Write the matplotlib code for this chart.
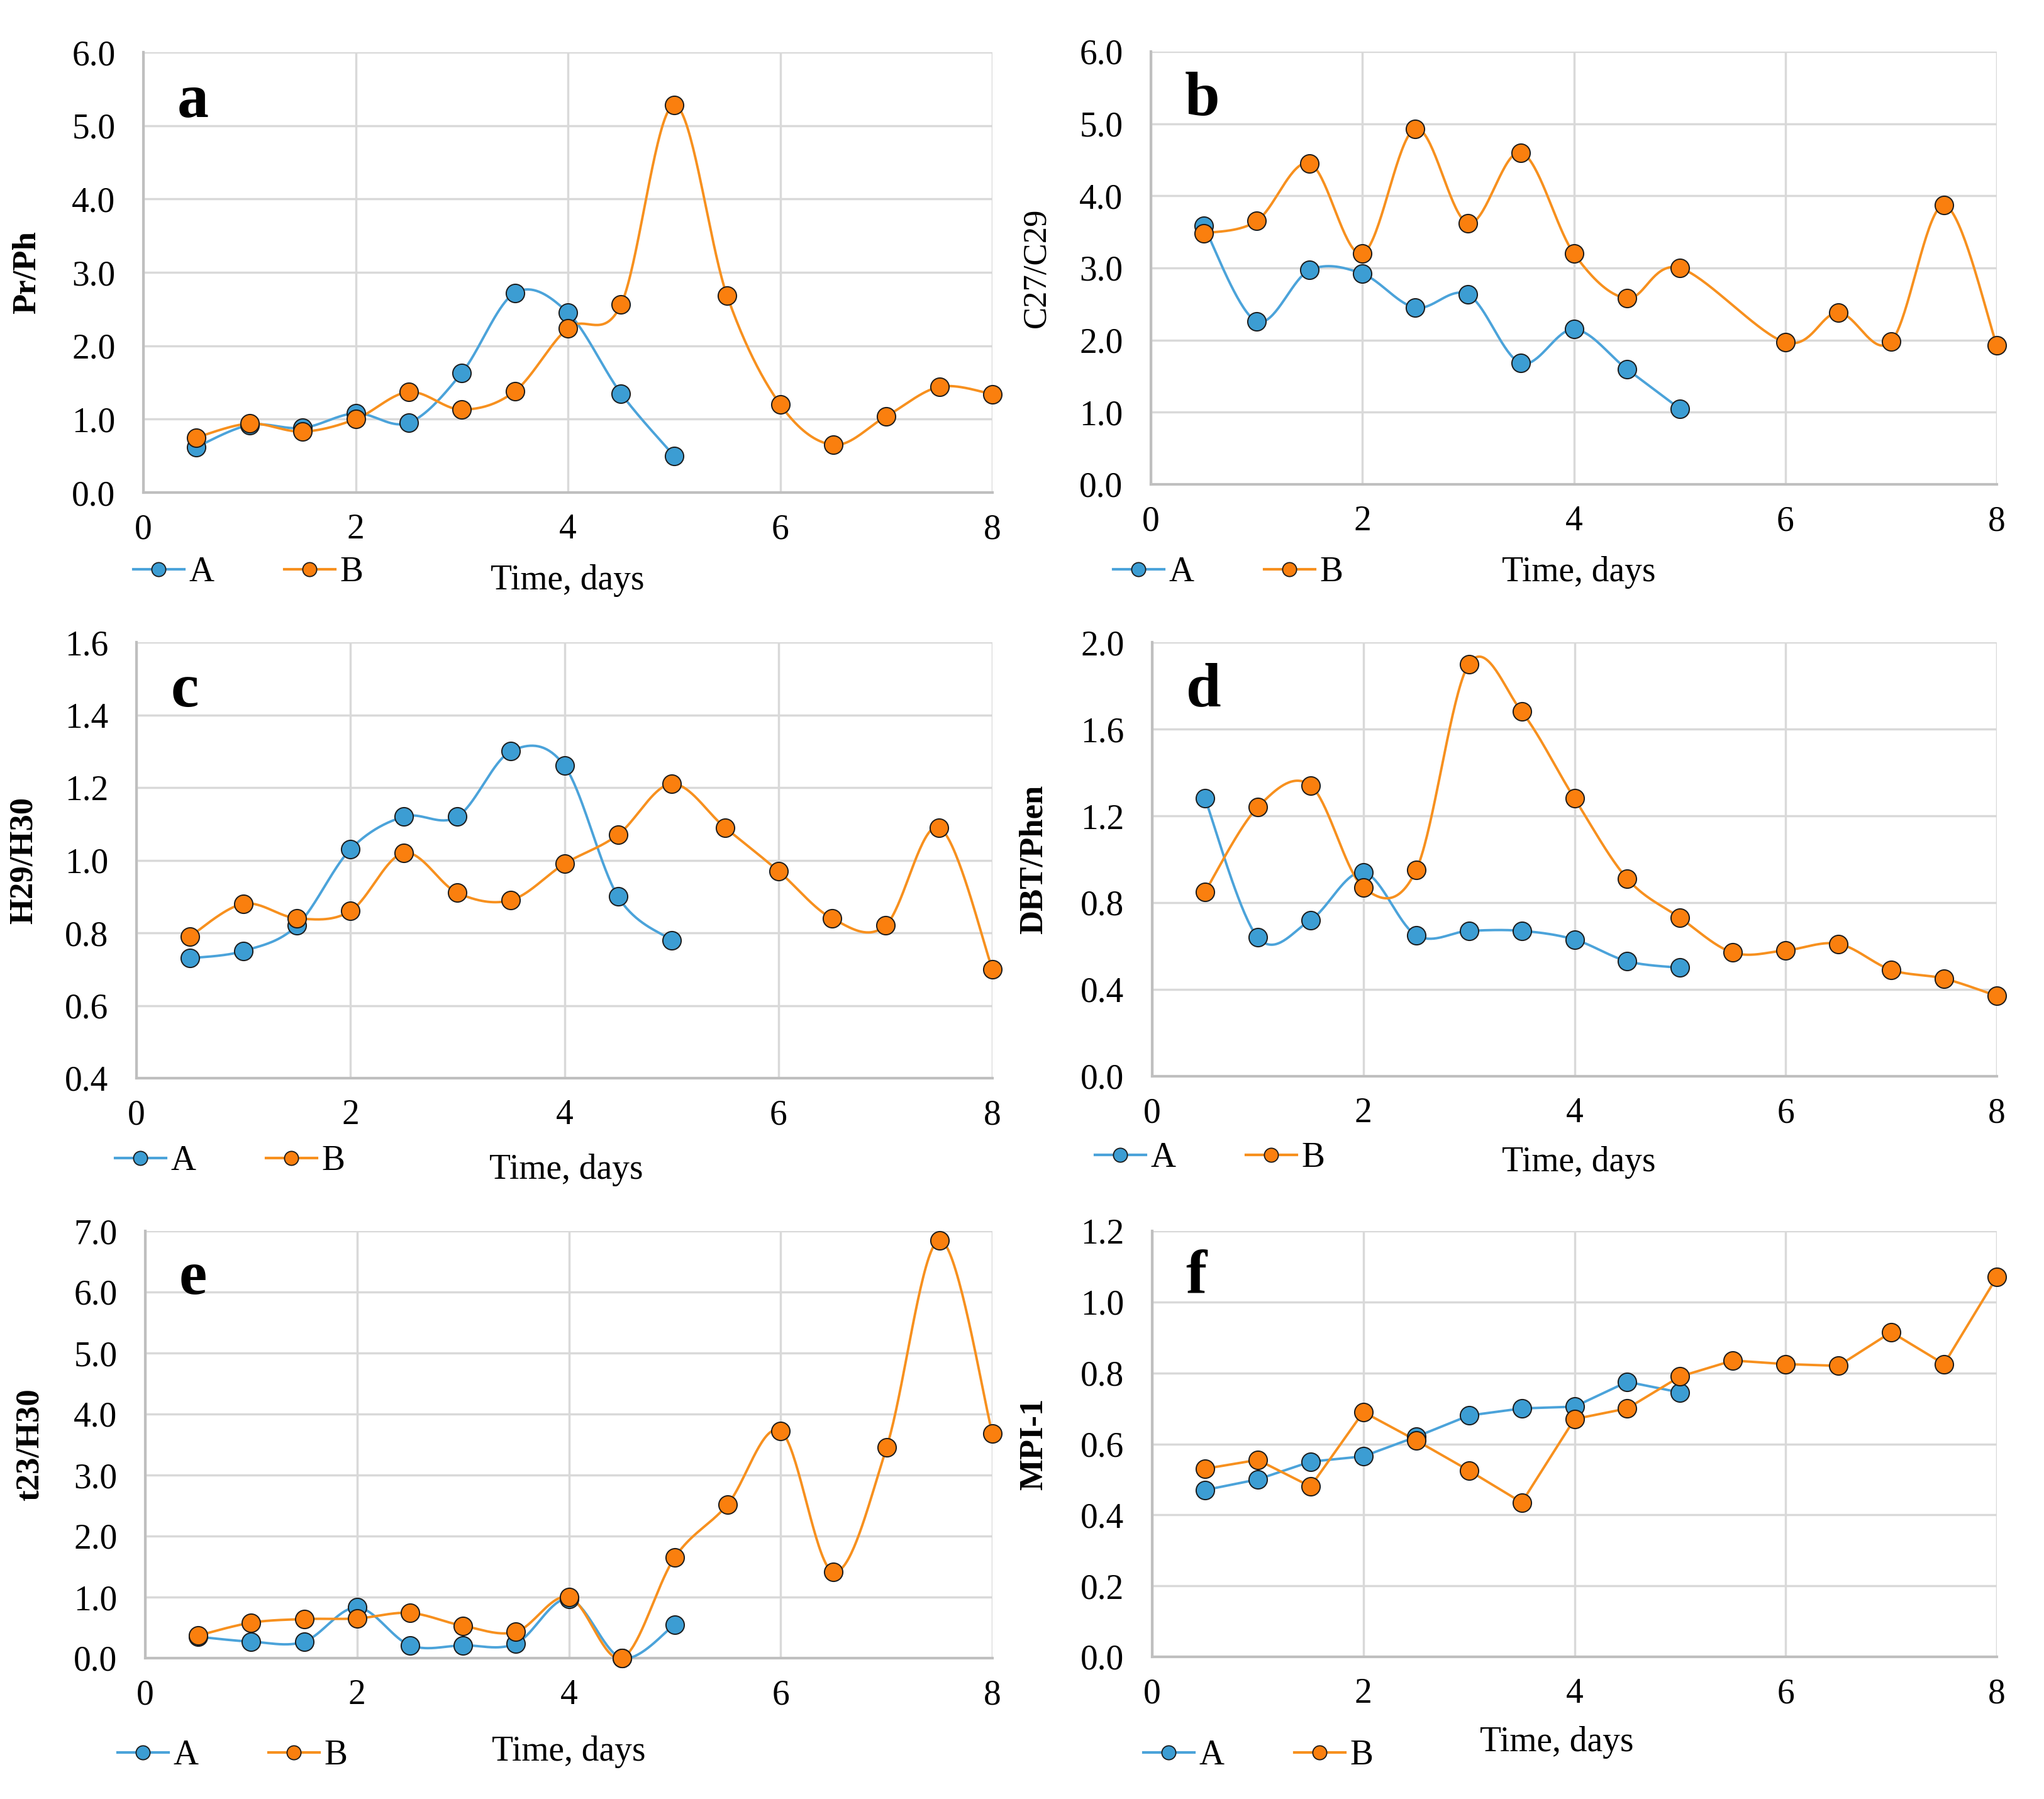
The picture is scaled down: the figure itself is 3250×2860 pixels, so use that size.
import numpy as np
import matplotlib
matplotlib.use("Agg")
import matplotlib.pyplot as plt
from matplotlib.lines import Line2D

plt.rcParams['font.family'] = ['Liberation Serif', 'DejaVu Serif']

# ---------------- data ----------------
time_A = [0.5, 1.0, 1.5, 2.0, 2.5, 3.0, 3.5, 4.0, 4.5, 5.0]
time_B = [0.5, 1.0, 1.5, 2.0, 2.5, 3.0, 3.5, 4.0, 4.5, 5.0, 5.5, 6.0, 6.5, 7.0, 7.5, 8.0]
time_B_b = [0.5, 1.0, 1.5, 2.0, 2.5, 3.0, 3.5, 4.0, 4.5, 5.0, 6.0, 6.5, 7.0, 7.5, 8.0]

prph_A = [0.62, 0.92, 0.88, 1.08, 0.95, 1.63, 2.72, 2.45, 1.35, 0.50]
prph_B = [0.75, 0.94, 0.83, 1.00, 1.37, 1.13, 1.38, 2.24, 2.56, 5.28, 2.68, 1.20, 0.65, 1.04, 1.44, 1.34]

c27_A = [3.58, 2.26, 2.97, 2.92, 2.45, 2.63, 1.68, 2.15, 1.60, 1.05]
c27_B = [3.48, 3.65, 4.45, 3.20, 4.93, 3.62, 4.60, 3.20, 2.58, 3.00, 1.97, 2.38, 1.98, 3.87, 1.93]

h29_A = [0.73, 0.75, 0.82, 1.03, 1.12, 1.12, 1.30, 1.26, 0.90, 0.78]
h29_B = [0.79, 0.88, 0.84, 0.86, 1.02, 0.91, 0.89, 0.99, 1.07, 1.21, 1.09, 0.97, 0.84, 0.82, 1.09, 0.70]

dbt_A = [1.28, 0.64, 0.72, 0.94, 0.65, 0.67, 0.67, 0.63, 0.53, 0.50]
dbt_B = [0.85, 1.24, 1.34, 0.87, 0.95, 1.90, 1.68, 1.28, 0.91, 0.73, 0.57, 0.58, 0.61, 0.49, 0.45, 0.37]

t23_A = [0.35, 0.27, 0.27, 0.83, 0.21, 0.21, 0.24, 0.97, 0.00, 0.55]
t23_B = [0.37, 0.58, 0.64, 0.65, 0.74, 0.53, 0.43, 1.00, 0.00, 1.65, 2.52, 3.72, 1.41, 3.45, 6.85, 3.68]

mpi_A = [0.47, 0.50, 0.55, 0.565, 0.62, 0.68, 0.70, 0.705, 0.775, 0.745]
mpi_B = [0.53, 0.555, 0.48, 0.69, 0.61, 0.525, 0.435, 0.67, 0.70, 0.79, 0.835, 0.825, 0.82, 0.915, 0.825, 1.07]

panel_letters = ['a', 'b', 'c', 'd', 'e', 'f']
y_labels = ['Pr/Ph', 'C27/C29', 'H29/H30', 'DBT/Phen', 't23/H30', 'MPI-1']
x_label = 'Time, days'
x_ticks = [0, 2, 4, 6, 8]
y_ticks = [
    [0.0, 1.0, 2.0, 3.0, 4.0, 5.0, 6.0],
    [0.0, 1.0, 2.0, 3.0, 4.0, 5.0, 6.0],
    [0.4, 0.6, 0.8, 1.0, 1.2, 1.4, 1.6],
    [0.0, 0.4, 0.8, 1.2, 1.6, 2.0],
    [0.0, 1.0, 2.0, 3.0, 4.0, 5.0, 6.0, 7.0],
    [0.0, 0.2, 0.4, 0.6, 0.8, 1.0, 1.2],
]
series = [
    (time_A, prph_A, time_B, prph_B),
    (time_A, c27_A, time_B_b, c27_B),
    (time_A, h29_A, time_B, h29_B),
    (time_A, dbt_A, time_B, dbt_B),
    (time_A, t23_A, time_B, t23_B),
    (time_A, mpi_A, time_B, mpi_B),
]
smooth = [True, True, True, True, True, False]

# ---------------- layout / style ----------------
W, H = 3250, 2860
boxes = [  # left, right, top, bottom in pixels
    (228, 1578, 83, 783),
    (1830, 3175, 82, 770),
    (217, 1578, 1021, 1714),
    (1832, 3175, 1021, 1711),
    (231, 1578, 1957, 2636),
    (1832, 3175, 1957, 2634),
]
legend_pos = [  # handle start x px, center y px
    (212, 910), (1770, 910), (183, 1846), (1741, 1841), (187, 2791), (1818, 2791)
]
xlabel_pos = [(902, 923), (2510, 910), (900, 1860), (2510, 1848), (904, 2785), (2475, 2770)]
ylabel_x = [67, 1672, 62, 1668, 72, 1668]
ylabel_bold = [True, False, True, True, True, True]

col_A_line = '#4BA3DA'
col_A_fill = '#3C9DD3'
col_B_line = '#F7901E'
col_B_fill = '#FA7F0E'
grid_col = '#D9D9D9'
spine_col = '#BFBFBF'


def excel_smooth(x, y, n=40):
    x = np.asarray(x, float)
    y = np.asarray(y, float)
    P = np.column_stack([x, y])
    m = len(P)
    out = [P[0]]
    t = np.linspace(0, 1, n)[1:]
    for i in range(m - 1):
        p0 = P[max(i - 1, 0)]
        p1 = P[i]
        p2 = P[i + 1]
        p3 = P[min(i + 2, m - 1)]
        c1 = p1 + (p2 - p0) / 6.0
        c2 = p2 - (p3 - p1) / 6.0
        seg = ((1 - t) ** 3)[:, None] * p1 + (3 * (1 - t) ** 2 * t)[:, None] * c1 \
            + (3 * (1 - t) * t ** 2)[:, None] * c2 + (t ** 3)[:, None] * p2
        out.extend(seg)
    out = np.array(out)
    return out[:, 0], out[:, 1]


fig = plt.figure(figsize=(W / 100, H / 100), dpi=100)
fig.patch.set_facecolor('white')

for k in range(6):
    l, r, t, b = boxes[k]
    ax = fig.add_axes([l / W, 1 - b / H, (r - l) / W, (b - t) / H])
    xa, ya, xb, yb = series[k]
    for xs, ys, lc, fc, lab in [(xa, ya, col_A_line, col_A_fill, 'A'),
                                (xb, yb, col_B_line, col_B_fill, 'B')]:
        if smooth[k]:
            sx, sy = excel_smooth(xs, ys)
        else:
            sx, sy = xs, ys
        ax.plot(sx, sy, color=lc, lw=2.8, zorder=3, clip_on=False)
        ax.plot(xs, ys, ls='none', marker='o', ms=21, mfc=fc, mec='#1a1a1a',
                mew=1.4, zorder=4, clip_on=False)
    ax.set_xlim(0, 8)
    ax.set_ylim(y_ticks[k][0], y_ticks[k][-1])
    ax.set_xticks(x_ticks)
    ax.set_xticklabels([str(v) for v in x_ticks])
    ax.set_yticks(y_ticks[k])
    ax.set_yticklabels([f'{v:.1f}' for v in y_ticks[k]])
    ax.tick_params(axis='both', length=0, labelsize=40, colors='black')
    ax.tick_params(axis='x', pad=24)
    ax.tick_params(axis='y', pad=32)
    ax.grid(True, color=grid_col, lw=2.5, zorder=0)
    ax.set_axisbelow(True)
    for s in ['top', 'right']:
        ax.spines[s].set_visible(False)
    for s in ['left', 'bottom']:
        ax.spines[s].set_color(spine_col)
        ax.spines[s].set_linewidth(3)

    axw = r - l
    axh = b - t
    ax.text(0.04, 0.853, panel_letters[k], transform=ax.transAxes, fontsize=72,
            fontweight='bold', ha='left', va='baseline')

    ax.set_ylabel(y_labels[k], fontsize=38,
                  fontweight='bold' if ylabel_bold[k] else 'normal')
    ax.yaxis.set_label_coords((ylabel_x[k] - l) / axw, 0.5)

    xlx, xly = xlabel_pos[k]
    ax.text((xlx - l) / axw, (b - xly) / axh, x_label, transform=ax.transAxes,
            fontsize=40, ha='center', va='center')

    handles = [Line2D([], [], color=col_A_line, lw=3, marker='o', ms=16,
                      mfc=col_A_fill, mec='#1a1a1a', mew=1.3),
               Line2D([], [], color=col_B_line, lw=3, marker='o', ms=16,
                      mfc=col_B_fill, mec='#1a1a1a', mew=1.3)]
    lx, ly = legend_pos[k]
    ax.legend(handles, ['A', 'B'], loc='center left',
              bbox_to_anchor=((lx - l) / axw, (b - ly) / axh),
              ncol=2, frameon=False, fontsize=40, handlelength=1.45,
              handletextpad=0.15, columnspacing=2.0, borderpad=0,
              borderaxespad=0)

fig.savefig('out.png', dpi=100, facecolor='white')
